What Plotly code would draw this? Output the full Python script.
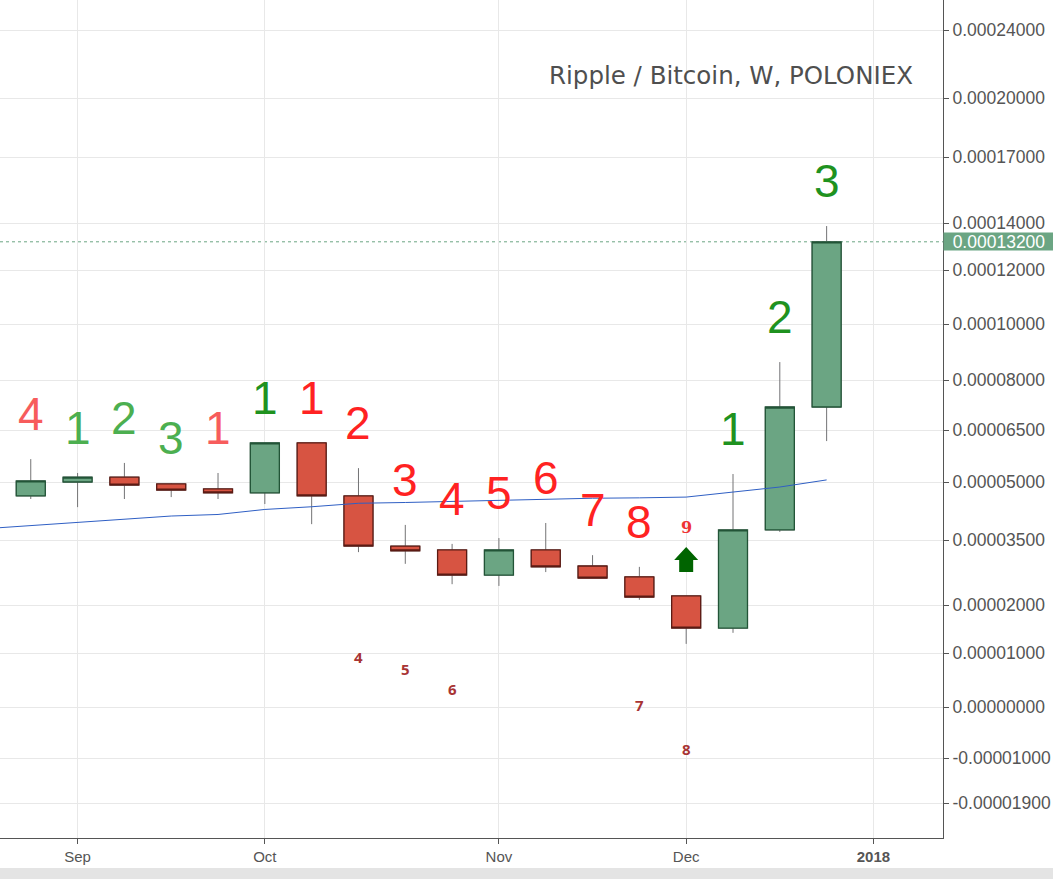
import numpy as np
import pandas as pd
import plotly.graph_objects as go

# ---------------- data: Ripple / Bitcoin weekly (POLONIEX) ----------------
WEEKS = pd.date_range("2017-08-28", periods=18, freq="7D")
OPEN = [0.0000464, 0.0000500, 0.0000514, 0.0000495, 0.0000482, 0.0000472,
        0.0000613, 0.0000464, 0.0000336, 0.0000327, 0.0000269, 0.0000327,
        0.0000290, 0.0000265, 0.0000221, 0.0000152, 0.0000376, 0.0000719]
HIGH = [0.0000566, 0.0000526, 0.0000555, 0.0000497, 0.0000526, 0.0000613,
        0.0000613, 0.0000540, 0.0000389, 0.0000341, 0.0000355, 0.0000394,
        0.0000315, 0.0000288, 0.0000221, 0.0000523, 0.0000864, 0.0001387]
LOW = [0.0000456, 0.0000435, 0.0000456, 0.0000461, 0.0000456, 0.0000443,
       0.0000391, 0.0000322, 0.0000295, 0.0000248, 0.0000244, 0.0000276,
       0.0000262, 0.0000212, 0.0000119, 0.0000142, 0.0000371, 0.0000618]
CLOSE = [0.0000503, 0.0000514, 0.0000492, 0.0000479, 0.0000472, 0.0000613,
         0.0000464, 0.0000336, 0.0000325, 0.0000269, 0.0000327, 0.0000288,
         0.0000262, 0.0000218, 0.0000152, 0.0000376, 0.0000719, 0.0001320]

# moving average (starts one week before the first visible candle)
MA_WEEKS = pd.date_range("2017-08-21", periods=19, freq="7D")
MA_VALUES = [0.0000379, 0.0000387, 0.0000396, 0.0000404, 0.0000412, 0.0000416,
             0.0000429, 0.0000436, 0.0000445, 0.0000447, 0.0000450, 0.0000453,
             0.0000456, 0.0000458, 0.0000459, 0.0000461, 0.0000474, 0.0000487,
             0.0000506]

# TD sequential counts above the bars
COUNT_TEXT = ["4", "1", "2", "3", "1", "1", "1", "2", "3", "4", "5", "6", "7", "8", "", "1", "2", "3"]
COUNT_KIND = ["sell_old", "buy_old", "buy_old", "buy_old", "sell_old", "buy", "sell", "sell",
              "sell", "sell", "sell", "sell", "sell", "sell", "", "buy", "buy", "buy"]
# countdown counts below the bars
COUNTDOWN_IDX = [7, 8, 9, 13, 14]
COUNTDOWN_TEXT = ["4", "5", "6", "7", "8"]
SETUP_IDX = 14
SETUP_TEXT = "9"

LAST_PRICE = 0.000132

# price-scale ticks (custom compressed scale as on the chart)
TICK_VALUES = [0.00024, 0.0002, 0.00017, 0.00014, 0.00012, 0.0001, 0.00008, 0.000065,
               0.00005, 0.000035, 0.00002, 0.00001, 0.0, -0.00001, -0.000019]
TICK_SCALE = [-30, -98, -157, -223, -270, -324, -380, -430,
              -482, -540, -605, -653, -707, -758, -803]

MONTH_TICKS = ["2017-09-04", "2017-10-02", "2017-11-06", "2017-12-04", "2018-01-01"]
MONTH_LABELS = ["Sep", "Oct", "Nov", "Dec", "<b>2018</b>"]

TITLE = "Ripple / Bitcoin, W, POLONIEX"

# ---------------- scale transform ----------------
_sv = TICK_VALUES[::-1]
_sp = TICK_SCALE[::-1]


def ys(v):
    return np.interp(np.asarray(v, dtype=float), _sv, _sp)


UP_FILL, UP_LINE = "#6ba583", "#225437"
DN_FILL, DN_LINE = "#d75442", "#5b1a13"
WICK = "#737375"
COLORS = {"sell_old": "#f75c5c", "buy_old": "#4caf50", "buy": "#1f921f", "sell": "#ff2222"}

fig = go.Figure()

# wicks
fig.add_trace(go.Candlestick(
    x=WEEKS, open=ys(OPEN), high=ys(HIGH), low=ys(LOW), close=ys(CLOSE),
    increasing=dict(line=dict(color=WICK, width=1), fillcolor="rgba(0,0,0,0)"),
    decreasing=dict(line=dict(color=WICK, width=1), fillcolor="rgba(0,0,0,0)"),
    whiskerwidth=0, showlegend=False, hoverinfo="skip"))

# bodies
body_hi = np.maximum(OPEN, CLOSE)
body_lo = np.minimum(OPEN, CLOSE)
fig.add_trace(go.Candlestick(
    x=WEEKS, open=ys(OPEN), high=ys(body_hi), low=ys(body_lo), close=ys(CLOSE),
    increasing=dict(line=dict(color=UP_LINE, width=1.3), fillcolor=UP_FILL),
    decreasing=dict(line=dict(color=DN_LINE, width=1.3), fillcolor=DN_FILL),
    whiskerwidth=0, showlegend=False))

# moving average
fig.add_trace(go.Scatter(x=MA_WEEKS, y=ys(MA_VALUES), mode="lines",
                         line=dict(color="#2f5fc4", width=1), showlegend=False))

annotations = []
for i, (t, k) in enumerate(zip(COUNT_TEXT, COUNT_KIND)):
    if not t:
        continue
    annotations.append(dict(x=WEEKS[i], y=float(ys(HIGH[i])), text=t, showarrow=False,
                            yanchor="middle", yshift=45,
                            font=dict(family="Liberation Sans", size=46, color=COLORS[k])))
for i, t in zip(COUNTDOWN_IDX, COUNTDOWN_TEXT):
    annotations.append(dict(x=WEEKS[i], y=float(ys(LOW[i])), text="<b>%s</b>" % t, showarrow=False,
                            yanchor="middle", yshift=-105,
                            font=dict(family="Open Sans", size=15, color="#a83434")))
annotations.append(dict(x=WEEKS[SETUP_IDX], y=float(ys(HIGH[SETUP_IDX])), text="<b>%s</b>" % SETUP_TEXT,
                        showarrow=False, yanchor="middle", yshift=68,
                        font=dict(family="DejaVu Serif", size=16, color="#ee3333")))
# title
annotations.append(dict(x=915 / 943, xref="paper", y=(838 - 75) / 838, yref="paper", text=TITLE,
                        showarrow=False, xanchor="right", yanchor="middle",
                        font=dict(family="DejaVu Sans", size=24.5, color="#4f4f4f")))
# last price label
annotations.append(dict(x=1.0, xref="paper", y=float(ys(LAST_PRICE)), yref="y",
                        text="%.8f" % LAST_PRICE, showarrow=False, xanchor="left", yanchor="middle",
                        width=110, height=17, bgcolor=UP_FILL, borderpad=0, align="center",
                        font=dict(family="Liberation Sans", size=17.5, color="white")))

shapes = [
    dict(type="line", xref="paper", x0=0, x1=1, yref="y", y0=float(ys(LAST_PRICE)), y1=float(ys(LAST_PRICE)),
         line=dict(color=UP_FILL, width=1, dash="dot"), layer="below"),
    # buy-setup arrow
    dict(type="path", xref="x", yref="y", xsizemode="pixel", ysizemode="pixel",
         xanchor=WEEKS[SETUP_IDX], yanchor=float(ys(HIGH[SETUP_IDX])),
         path="M -7,24 L 7,24 L 7,36 L 12,36 L 0,49 L -12,36 L -7,36 Z",
         fillcolor="#006400", line=dict(width=0)),
    # bottom toolbar strip
    dict(type="rect", xref="paper", x0=0, x1=1053 / 943, yref="paper", y0=-41 / 838, y1=-30 / 838,
         fillcolor="#e4e4e4", line=dict(width=0)),
]

fig.update_layout(
    width=1053, height=879,
    margin=dict(l=0, r=110, t=0, b=41, pad=0),
    paper_bgcolor="white", plot_bgcolor="white",
    showlegend=False,
    boxgap=0.38, boxgroupgap=0,
    annotations=annotations,
    shapes=shapes,
    hovermode=False,
)
fig.update_xaxes(
    type="date", rangeslider=dict(visible=False),
    range=[WEEKS[0] - pd.Timedelta(days=4.6), WEEKS[0] + pd.Timedelta(days=136.4)],
    tickvals=pd.to_datetime(MONTH_TICKS), ticktext=MONTH_LABELS,
    showgrid=True, gridcolor="#e8e8e8", gridwidth=1,
    showline=True, linecolor="#555555", linewidth=1,
    ticks="outside", ticklen=5, tickcolor="#555555",
    tickfont=dict(family="Liberation Sans", size=15, color="#555555"),
    zeroline=False,
)
fig.update_yaxes(
    side="right", range=[-838, 0],
    tickvals=TICK_SCALE, ticktext=["%.8f" % v if v != 0 else "0.00000000" for v in TICK_VALUES],
    showgrid=True, gridcolor="#e8e8e8", gridwidth=1,
    showline=True, linecolor="#555555", linewidth=1,
    ticks="outside", ticklen=5, tickcolor="#555555",
    tickfont=dict(family="Liberation Sans", size=17.5, color="#555555"),
    zeroline=False,
)

fig.write_html("out.html")
